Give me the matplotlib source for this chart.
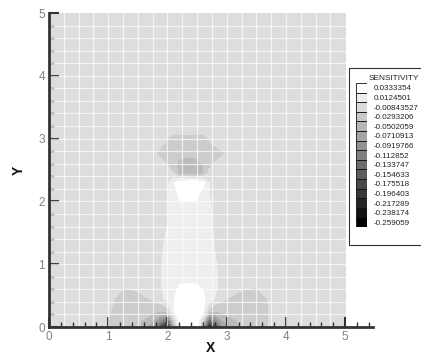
import numpy as np
import matplotlib
matplotlib.use("Agg")
import matplotlib.pyplot as plt
from matplotlib import font_manager
from matplotlib.patches import Rectangle

# ---------------- data ----------------
x_nodes = [0, 0.5, 1.0, 1.25, 1.5, 1.75, 1.9, 2.0, 2.1, 2.2, 2.35, 2.5, 2.6,
           2.7, 2.8, 2.95, 3.25, 3.5, 3.75, 4.0, 4.5, 5.0]
y_nodes = [0, 0.1, 0.25, 0.45, 0.65, 0.85, 1.3, 1.8, 2.1, 2.3, 2.45, 2.6,
           2.77, 2.95, 3.15, 4.0, 5.0]

sensitivity = [
    # y = 0
    [0, 0, -0.007, -0.02, -0.024, -0.07, -0.2, -0.27, -0.06, 0.04, 0.05, 0.045,
     -0.03, -0.26, -0.2, -0.07, -0.024, -0.02, -0.006, 0, 0, 0],
    # y = 0.1
    [0, 0, -0.008, -0.021, -0.023, -0.05, -0.1, -0.14, -0.02, 0.042, 0.05, 0.046,
     -0.01, -0.14, -0.1, -0.05, -0.023, -0.022, -0.006, 0, 0, 0],
    # y = 0.25
    [0, 0, -0.006, -0.021, -0.021, -0.025, -0.03, -0.02, 0.03, 0.045, 0.052, 0.05,
     0.036, -0.02, -0.03, -0.025, -0.021, -0.021, -0.006, 0, 0, 0],
    # y = 0.45
    [0, 0, 0, -0.02, -0.016, -0.006, 0.008, 0.02, 0.032, 0.045, 0.05, 0.048,
     0.038, 0.024, 0.012, -0.006, -0.02, -0.022, -0.004, 0, 0, 0],
    # y = 0.65
    [0, 0, 0, -0.007, -0.003, 0, 0.012, 0.025, 0.028, 0.034, 0.036, 0.035,
     0.03, 0.025, 0.018, 0, -0.003, -0.007, 0, 0, 0, 0],
    # y = 0.85
    [0, 0, 0, 0, 0, 0, 0.013, 0.025, 0.025, 0.025, 0.025, 0.025,
     0.025, 0.024, 0.018, 0, 0, 0, 0, 0, 0, 0],
    # y = 1.3
    [0, 0, 0, 0, 0, 0, 0.008, 0.02, 0.025, 0.025, 0.025, 0.025,
     0.025, 0.025, 0.011, 0, 0, 0, 0, 0, 0, 0],
    # y = 1.8
    [0, 0, 0, 0, 0, 0, 0.002, 0.009, 0.025, 0.025, 0.025, 0.025,
     0.025, 0.02, 0.004, 0, 0, 0, 0, 0, 0, 0],
    # y = 2.1
    [0, 0, 0, 0, 0, 0, 0.002, 0.01, 0.024, 0.036, 0.038, 0.036,
     0.026, 0.014, 0.004, 0, 0, 0, 0, 0, 0, 0],
    # y = 2.3
    [0, 0, 0, 0, 0, 0, 0, 0.006, 0.03, 0.045, 0.05, 0.05,
     0.04, 0.015, 0, 0, 0, 0, 0, 0, 0, 0],
    # y = 2.45
    [0, 0, 0, 0, 0, 0, 0, 0, -0.008, -0.04, -0.045, -0.042,
     -0.035, -0.004, 0, 0, 0, 0, 0, 0, 0, 0],
    # y = 2.6
    [0, 0, 0, 0, 0, 0, 0, -0.011, -0.022, -0.035, -0.036, -0.035,
     -0.028, -0.016, -0.006, 0, 0, 0, 0, 0, 0, 0],
    # y = 2.77
    [0, 0, 0, 0, 0, 0, -0.021, -0.022, -0.023, -0.024, -0.024, -0.024,
     -0.023, -0.022, -0.021, -0.01, 0, 0, 0, 0, 0, 0],
    # y = 2.95
    [0, 0, 0, 0, 0, 0, 0, -0.012, -0.021, -0.021, -0.021, -0.021,
     -0.021, -0.012, 0, 0, 0, 0, 0, 0, 0, 0],
    # y = 3.15
    [0] * 22,
    # y = 4.0
    [0] * 22,
    # y = 5.0
    [0] * 22,
]

legend_levels = [0.0333354, 0.0124501, -0.00843527, -0.0293206, -0.0502059,
                 -0.0710913, -0.0919766, -0.112852, -0.133747, -0.154633,
                 -0.175518, -0.196403, -0.217289, -0.238174, -0.259059]
legend_labels = ["0.0333354", "0.0124501", "-0.00843527", "-0.0293206",
                 "-0.0502059", "-0.0710913", "-0.0919766", "-0.112852",
                 "-0.133747", "-0.154633", "-0.175518", "-0.196403",
                 "-0.217289", "-0.238174", "-0.259059"]
legend_title = "SENSITIVITY"
x_tick_labels = ["0", "1", "2", "3", "4", "5"]
y_tick_labels = ["0", "1", "2", "3", "4", "5"]

# ---------------- fonts ----------------
names = {f.name for f in font_manager.fontManager.ttflist}
tick_font = "Liberation Sans Narrow" if "Liberation Sans Narrow" in names else "Liberation Sans"
plt.rcParams["font.family"] = ["Liberation Sans", "DejaVu Sans"]

W, H = 421, 354
fig = plt.figure(figsize=(W / 100, H / 100), dpi=100)
fig.patch.set_facecolor("white")

ax = fig.add_axes([49 / W, 1 - 327 / H, 324 / W, 314 / H])
ax.set_facecolor("none")

# contour flood
asc = sorted(legend_levels)
bounds = [-1.0] + asc + [1.0]
n_bands = len(bounds) - 1
band_colors = [str(j / (n_bands - 1)) for j in range(n_bands)]
Z = np.array(sensitivity, dtype=float)
cs = ax.contourf(x_nodes, y_nodes, Z, levels=bounds, colors=band_colors,
                 antialiased=False, zorder=1)

# mesh lines (white)
for xv in np.arange(0.25, 5.0, 0.25):
    ax.plot([xv, xv], [0, 5], color="white", lw=0.9, alpha=0.7, zorder=2)
for yv in np.arange(0.2, 5.0, 0.2):
    ax.plot([0, 5], [yv, yv], color="white", lw=0.9, alpha=0.7, zorder=2)

ax.set_xlim(0, 5.47)
ax.set_ylim(0, 5)
for s in ["top", "right"]:
    ax.spines[s].set_visible(False)
for s in ["left", "bottom"]:
    ax.spines[s].set_linewidth(2)
    ax.spines[s].set_color("#333333")
    ax.spines[s].set_zorder(5)

ax.set_xticks(range(6))
ax.set_xticklabels(x_tick_labels)
ax.set_yticks(range(6))
ax.set_yticklabels(y_tick_labels)
ax.set_xticks(np.arange(0, 5.5, 0.2), minor=True)
ax.set_yticks(np.arange(0, 5.01, 0.2), minor=True)
ax.tick_params(which="major", direction="in", length=7, width=1.5,
               color="#333333", labelsize=8.5, labelcolor="#808080", pad=3)
ax.tick_params(which="minor", direction="in", length=3.5, width=1,
               color="#333333")
for lab in ax.get_xticklabels() + ax.get_yticklabels():
    lab.set_family(tick_font)

fig.text(211 / W, 1 - 348 / H, "X", ha="center", va="center",
         fontsize=10, fontweight="bold", color="#111111")
fig.text(19 / W, 1 - 170 / H, "Y", ha="center", va="center", rotation=90,
         fontsize=10, fontweight="bold", color="#111111")

# legend frame
frame = Rectangle((349 / W, 1 - 245 / H), 80 / W, 177 / H,
                  transform=fig.transFigure, facecolor="white",
                  edgecolor="#333333", lw=0.8, zorder=6)
fig.add_artist(frame)
fig.text(369 / W, 1 - 79 / H, legend_title, ha="left", va="center",
         fontsize=6, color="#222222", zorder=7)

ax_cb = fig.add_axes([356 / W, 1 - 227 / H, 11 / W, 144 / H])
ax_cb.set_zorder(8)
ax_cb.set_facecolor("none")
n_sw = len(legend_levels)
sw_colors = [str(1 - k / (n_sw - 1)) for k in range(n_sw)]
ax_cb.barh(range(n_sw), [1] * n_sw, height=1.0, left=0, color=sw_colors,
           edgecolor="#111111", linewidth=0.6)
ax_cb.set_xlim(0, 1)
ax_cb.set_ylim(n_sw - 0.5, -0.5)
ax_cb.set_xticks([])
ax_cb.yaxis.tick_right()
ax_cb.set_yticks(range(n_sw))
ax_cb.set_yticklabels(legend_labels)
ax_cb.tick_params(axis="y", length=0, pad=4.5, labelsize=5.8,
                  labelcolor="#222222")
for s in ax_cb.spines.values():
    s.set_visible(False)

fig.savefig("out.png", dpi=100, facecolor="white")
